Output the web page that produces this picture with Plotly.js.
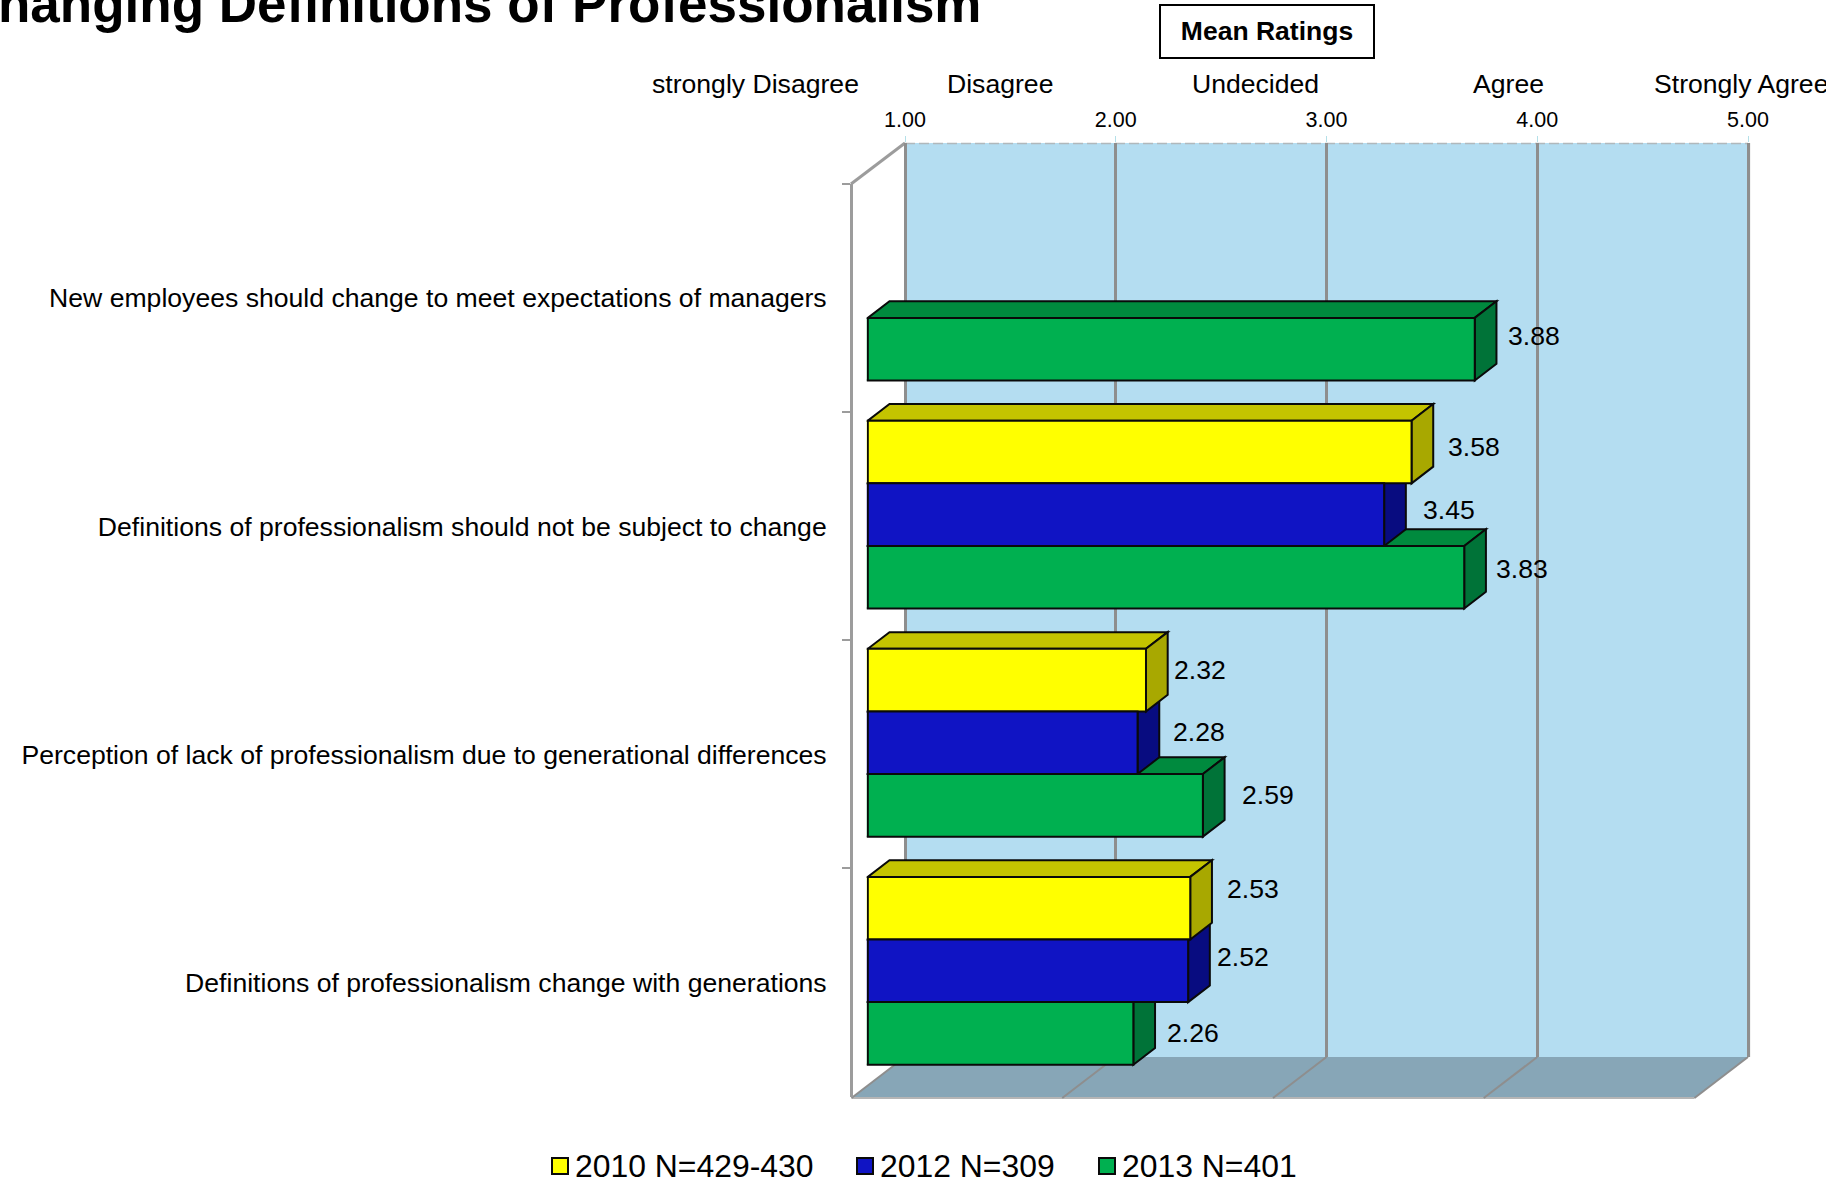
<!DOCTYPE html>
<html>
<head>
<meta charset="utf-8">
<script src="https://cdn.plot.ly/plotly-3.0.1.min.js"></script>
<style>html,body{margin:0;padding:0;background:#fff;overflow:hidden}#chart{width:1826px;height:1181px}</style>
</head>
<body>
<div id="chart"></div>
<script>
// ---------- data ----------
const categories = [
  "New employees should change to meet expectations of managers",
  "Definitions of professionalism should not be subject to change",
  "Perception of lack of professionalism due to generational differences",
  "Definitions of professionalism change with generations"
];
const seriesNames = ["2010 N=429-430", "2012 N=309", "2013 N=401"];
const values2010 = [null, 3.58, 2.32, 2.53];
const values2012 = [null, 3.45, 2.28, 2.52];
const values2013 = [3.88, 3.83, 2.59, 2.26];
const scaleLabels = ["strongly Disagree", "Disagree", "Undecided", "Agree", "Strongly Agree"];
const tickValues = [1, 2, 3, 4, 5];

// ---------- style and layout constants (pixels) ----------
const W = 1826, H = 1181;
const FONT = '"Liberation Sans", Arial, sans-serif';
const frontColors = ["#FFFF00", "#1014C4", "#00B050"];
const topColors   = ["#C4C400", "#0C1090", "#008A3E"];
const sideColors  = ["#A8A800", "#080C80", "#007338"];
const WALL = {l: 905, r: 1748, t: 143, b: 1057};
const FLOOR_DX = 53.5, FLOOR_DY = 41;
const pxPerUnit = (WALL.r - WALL.l) / 4;
const WALL_PAD = 3; // keeps the gridlines at 1 and 5 inside the axis range
const BARS = {l: 866.8, x1: 867.8, t: 172.55, b: 1084.85};
const AXIS_FRONT = {x: 851, t: 184, b: 1096.5};
const DEPTH_X = 21.7, DEPTH_Y = 16.7;
const BARGAP = 0.1765;
// offsets of each data label from the bar end (right, up), by series then category
const labelOffsets = [
  [null, [34.3, 4.6], [25.7, 10], [34.7, 19]],
  [null, [36.7, 4.3], [33.7, 10.6], [26.7, 14]],
  [[31.2, 13.3], [29.4, 8], [37.2, 10.3], [31.4, 0.3]]
];
const scaleCenters = [860.5, 1000, 1255.5, 1508];
const legendSwatchLeft = [551, 856, 1098];

const allValues = [values2010, values2012, values2013];
const px = x => x / W;
const py = y => 1 - y / H;
const barH = (1 - BARGAP) / 3;
const slotY = (cat, s) => cat + (s - 1) * barH;

// ---------- traces ----------
const traces = [];
// wall plane: carries the top value axis and its gridlines
traces.push({type: 'scatter', mode: 'none', x: [1, 5], y: [0, 1], xaxis: 'x', yaxis: 'y',
  showlegend: false, hoverinfo: 'skip'});
// front bars
allValues.forEach((vals, s) => {
  traces.push({
    type: 'bar', orientation: 'h', name: seriesNames[s], x: vals, y: categories,
    xaxis: 'x2', yaxis: 'y2',
    marker: {color: frontColors[s], line: {color: '#0a0a0a', width: 2}},
    showlegend: false
  });
});
// front plane: carries the category labels
traces.push({type: 'scatter', mode: 'none', x: categories.map(() => 1), y: categories,
  xaxis: 'x3', yaxis: 'y3', showlegend: false, hoverinfo: 'skip'});

// ---------- shapes ----------
const shapes = [];
const poly = pts => 'M' + pts.map(p => p[0] + ',' + p[1]).join(' L') + ' Z';
// floor
shapes.push({type: 'path', xref: 'paper', yref: 'paper', layer: 'below',
  path: poly([[px(WALL.l), py(WALL.b)], [px(WALL.r), py(WALL.b)],
              [px(WALL.r - FLOOR_DX), py(WALL.b + FLOOR_DY)], [px(WALL.l - FLOOR_DX), py(WALL.b + FLOOR_DY)]]),
  fillcolor: '#87A6B7', line: {width: 0}});
shapes.push({type: 'line', xref: 'paper', yref: 'paper', layer: 'below',
  x0: px(WALL.l - FLOOR_DX), x1: px(WALL.r - FLOOR_DX), y0: py(WALL.b + FLOOR_DY), y1: py(WALL.b + FLOOR_DY),
  line: {color: '#b5b5b5', width: 2}});
tickValues.forEach(v => {
  const xb = WALL.l + (v - 1) * pxPerUnit;
  shapes.push({type: 'line', xref: 'paper', yref: 'paper', layer: 'below',
    x0: px(xb), y0: py(WALL.b), x1: px(xb - FLOOR_DX), y1: py(WALL.b + FLOOR_DY),
    line: {color: '#8e8e8e', width: 2}});
});
// left side wall top edge
shapes.push({type: 'line', xref: 'paper', yref: 'paper', layer: 'below',
  x0: px(AXIS_FRONT.x), y0: py(AXIS_FRONT.t), x1: px(WALL.l), y1: py(WALL.t),
  line: {color: '#9c9c9c', width: 3}});
// back wall
shapes.push({type: 'rect', xref: 'paper', yref: 'paper', layer: 'below',
  x0: px(WALL.l), x1: px(WALL.r), y0: py(WALL.b), y1: py(WALL.t), fillcolor: '#B4DDF1', line: {width: 0}});
shapes.push({type: 'line', xref: 'paper', yref: 'paper', layer: 'below',
  x0: px(WALL.l), x1: px(WALL.r), y0: py(WALL.t + 0.5), y1: py(WALL.t + 0.5),
  line: {color: '#b0b8bc', width: 1.5, dash: '10px,4px'}});
shapes.push({type: 'line', xref: 'paper', yref: 'paper', layer: 'below',
  x0: px(WALL.r + 1.5), x1: px(WALL.r + 1.5), y0: py(WALL.b), y1: py(WALL.t),
  line: {color: '#cfcfcf', width: 1.5}});
// depth faces of the bars, back to front
const dxU = DEPTH_X / pxPerUnit;
const catPx = (BARS.b - BARS.t) / 4;
const dyU = DEPTH_Y / catPx;
const edge = {color: '#0a0a0a', width: 2};
categories.forEach((c, i) => {
  [2, 1, 0].forEach(s => {
    const v = allValues[s][i];
    if (v === null) return;
    const yt = slotY(i, s) - barH / 2, yb = slotY(i, s) + barH / 2;
    const common = {type: 'path', xref: 'x2', yref: 'y2', layer: 'between', line: edge};
    shapes.push(Object.assign({}, common, {
      path: poly([[1, yt], [v, yt], [v + dxU, yt - dyU], [1 + dxU, yt - dyU]]),
      fillcolor: topColors[s]}));
    shapes.push(Object.assign({}, common, {
      path: poly([[v, yt], [v + dxU, yt - dyU], [v + dxU, yb - dyU], [v, yb]]),
      fillcolor: sideColors[s]}));
    // left edge of the front face
    shapes.push({type: 'line', xref: 'x2', yref: 'y2', layer: 'above',
      x0: 1, x1: 1, y0: yt, y1: yb, line: edge});
  });
});

// ---------- annotations ----------
const annotations = [];
const textAnn = (text, x, y, anchor, size, bold) => ({
  text: bold ? '<b>' + text + '</b>' : text, xref: 'paper', yref: 'paper',
  x: px(x), y: py(y), xanchor: anchor, yanchor: 'middle', showarrow: false,
  font: {family: FONT, size: size, color: '#000'}
});
annotations.push(Object.assign(textAnn('Mean Ratings', 1267, 31.5, 'center', 26.5, true),
  {width: 212, height: 50.5, bordercolor: '#000', borderwidth: 2, borderpad: 0, bgcolor: '#fff'}));
annotations.push(textAnn(scaleLabels[0], scaleCenters[0], 84, 'right', 26.6));
scaleLabels.slice(1, 4).forEach((t, i) => annotations.push(textAnn(t, scaleCenters[i + 1], 84, 'center', 26.6)));
annotations.push(textAnn(scaleLabels[4], 1652, 84, 'left', 26.6));
allValues.forEach((vals, s) => vals.forEach((v, i) => {
  if (v === null) return;
  annotations.push({
    text: v.toFixed(2), xref: 'x2', yref: 'y2', x: v, y: slotY(i, s),
    xanchor: 'left', yanchor: 'middle', showarrow: false,
    xshift: labelOffsets[s][i][0], yshift: labelOffsets[s][i][1],
    font: {family: FONT, size: 26.6, color: '#000'}
  });
}));
// legend
seriesNames.forEach((n, s) => {
  const l = legendSwatchLeft[s];
  shapes.push({type: 'rect', xref: 'paper', yref: 'paper', layer: 'above',
    x0: px(l + 1), x1: px(l + 17), y0: py(1158), y1: py(1174),
    fillcolor: frontColors[s], line: {color: '#0a0a0a', width: 2}});
  annotations.push(textAnn(n, l + 21.7, 1166, 'left', 31.9));
});

// ---------- layout ----------
const layout = {
  width: W, height: H,
  margin: {l: 0, r: 0, t: 0, b: 0, pad: 0},
  paper_bgcolor: '#fff', plot_bgcolor: 'rgba(0,0,0,0)',
  showlegend: false, barmode: 'group', bargap: BARGAP, bargroupgap: 0,
  title: {text: '<b>Changing Definitions of Professionalism</b>',
    xref: 'paper', yref: 'paper', x: px(981.5), xanchor: 'right', y: py(10), yanchor: 'bottom',
    pad: {t: 0, b: -12, l: 0, r: 0},
    font: {family: FONT, size: 53, color: '#000'}},
  font: {family: FONT, color: '#000'},
  // wall plane
  xaxis: {domain: [px(WALL.l - WALL_PAD), px(WALL.r + WALL_PAD)],
    range: [1 - WALL_PAD / pxPerUnit, 5 + WALL_PAD / pxPerUnit], side: 'top', anchor: 'y',
    tickmode: 'array', tickvals: tickValues, tickformat: '.2f',
    ticks: 'outside', ticklen: 6, tickwidth: 1, tickcolor: '#b4e0e8',
    showgrid: true, gridcolor: '#8e8e8e', gridwidth: 2.5, zeroline: false, showline: false,
    tickfont: {family: FONT, size: 21.5, color: '#000'}, fixedrange: true},
  yaxis: {domain: [py(WALL.b), py(WALL.t)], range: [0, 1], anchor: 'x', visible: false, fixedrange: true},
  // bar plane
  xaxis2: {domain: [px(BARS.l), px(BARS.x1 + 4 * pxPerUnit)], range: [1 - (BARS.x1 - BARS.l) / pxPerUnit, 5],
    anchor: 'y2', visible: false, fixedrange: true},
  yaxis2: {domain: [py(BARS.b), py(BARS.t)], type: 'category', categoryorder: 'array', categoryarray: categories,
    range: [3.5, -0.5], anchor: 'x2', visible: false, fixedrange: true},
  // front plane
  xaxis3: {domain: [px(AXIS_FRONT.x), px(AXIS_FRONT.x + 100)], range: [0, 2], anchor: 'y3', visible: false, fixedrange: true},
  yaxis3: {domain: [py(AXIS_FRONT.b), py(AXIS_FRONT.t)], type: 'category', categoryorder: 'array', categoryarray: categories,
    range: [3.5, -0.5], anchor: 'free', position: px(AXIS_FRONT.x), side: 'left',
    tickson: 'boundaries', ticks: 'outside', ticklen: 8, tickwidth: 2, tickcolor: '#9c9c9c',
    showline: true, linecolor: '#9c9c9c', linewidth: 3, showgrid: false, zeroline: false,
    ticklabelstandoff: 18, automargin: false,
    tickfont: {family: FONT, size: 26.6, color: '#000'}, fixedrange: true},
  shapes: shapes,
  annotations: annotations
};

Plotly.newPlot('chart', traces, layout, {displayModeBar: false, responsive: false});
</script>
</body>
</html>
